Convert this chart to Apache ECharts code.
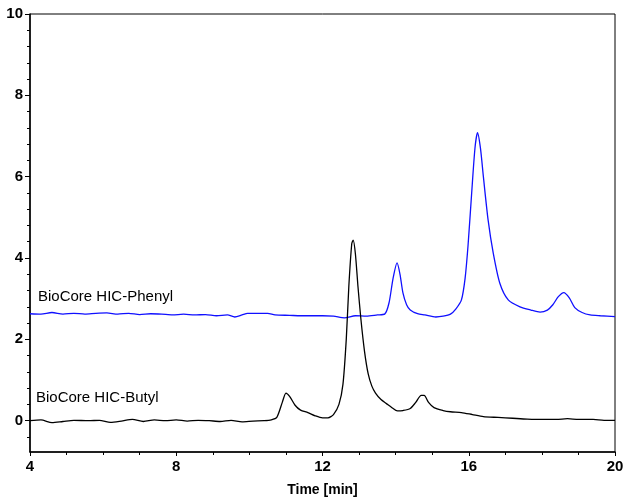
<!DOCTYPE html>
<html>
<head>
<meta charset="utf-8">
<script src="https://cdn.jsdelivr.net/npm/echarts@6/dist/echarts.min.js"></script>
<style>
  html, body { margin: 0; padding: 0; background: #fff; }
  #chart { width: 631px; height: 504px; }
</style>
</head>
<body>
<div id="chart"></div>
<script>
// retention time [min], signal
var butylX = [4.0, 4.3, 4.6, 4.9, 5.2, 5.6, 5.9, 6.2, 6.5, 6.8, 7.1, 7.4, 7.7, 8.0, 8.3, 8.6, 8.9, 9.2, 9.5, 9.8,
  10.1, 10.4, 10.6, 10.75, 10.9, 11.0, 11.1, 11.25, 11.4, 11.6, 11.8, 12.0, 12.15, 12.3, 12.45, 12.56, 12.65, 12.72,
  12.8, 12.84, 12.9, 12.97, 13.05, 13.15, 13.25, 13.35, 13.45, 13.6, 13.75, 13.9, 14.05, 14.2, 14.4, 14.55, 14.7,
  14.78, 14.9, 15.05, 15.3, 15.5, 15.8, 16.1, 16.4, 16.8, 17.2, 17.6, 18.0, 18.4, 18.7, 19.0, 19.4, 19.7, 20.0]
var butylY = [0.0, 0.02, -0.05, -0.02, 0.01, 0.0, 0.01, -0.04, -0.01, 0.03, -0.02, 0.02, 0.0, 0.02, -0.01, 0.01, 0.0, -0.02, 0.01, -0.03,
  -0.01, 0.0, 0.02, 0.08, 0.45, 0.68, 0.6, 0.38, 0.26, 0.2, 0.12, 0.07, 0.07, 0.15, 0.4, 0.9, 2.0, 3.3,
  4.35, 4.44, 4.1, 3.3, 2.5, 1.7, 1.15, 0.85, 0.68, 0.52, 0.42, 0.32, 0.24, 0.25, 0.3, 0.45, 0.62,
  0.62, 0.45, 0.32, 0.25, 0.22, 0.2, 0.15, 0.1, 0.08, 0.06, 0.04, 0.03, 0.03, 0.05, 0.03, 0.03, 0.01, 0.01]

var phenylX = [4.0, 4.3, 4.6, 4.9, 5.2, 5.5, 5.8, 6.1, 6.4, 6.7, 7.0, 7.3, 7.6, 7.9, 8.2, 8.5, 8.8, 9.1, 9.4, 9.6,
  9.8, 9.95, 10.2, 10.5, 10.7, 11.1, 11.4, 11.7, 12.0, 12.3, 12.6, 12.9, 13.2, 13.5, 13.7, 13.82, 13.93, 14.04, 14.12,
  14.2, 14.3, 14.4, 14.6, 14.8, 15.1, 15.3, 15.5, 15.65, 15.8, 15.9, 15.98, 16.08, 16.17, 16.24, 16.32, 16.4,
  16.53, 16.67, 16.85, 17.08, 17.4, 17.7, 17.95, 18.15, 18.3, 18.45, 18.6, 18.75, 18.9, 19.1, 19.32, 19.6, 20.0]
var phenylY = [2.63, 2.62, 2.66, 2.62, 2.64, 2.62, 2.64, 2.65, 2.62, 2.64, 2.61, 2.63, 2.62, 2.6, 2.62, 2.6, 2.61, 2.58, 2.6, 2.55,
  2.6, 2.64, 2.64, 2.64, 2.6, 2.59, 2.58, 2.58, 2.58, 2.57, 2.53, 2.58, 2.57, 2.6, 2.62, 2.9, 3.5, 3.88, 3.6,
  3.14, 2.85, 2.72, 2.63, 2.6, 2.55, 2.57, 2.62, 2.75, 2.97, 3.5, 4.3, 5.6, 6.7, 7.08, 6.7, 6.0,
  4.93, 4.12, 3.38, 2.97, 2.8, 2.72, 2.67, 2.72, 2.85, 3.05, 3.15, 3.02, 2.78, 2.66, 2.6, 2.58, 2.56]

var yMajor = [0, 2, 4, 6, 8, 10]
var yMinor = [-0.4, 0.4, 0.8, 1.2, 1.6, 2.4, 2.8, 3.2, 3.6, 4.4, 4.8, 5.2, 5.6, 6.4, 6.8, 7.2, 7.6, 8.4, 8.8, 9.2, 9.6]

function pairs(xs, ys) {
  return xs.map(function (x, i) { return [x, ys[i]] })
}

var chart = echarts.init(document.getElementById('chart'))
var font = 'Liberation Sans, Arial, sans-serif'

chart.setOption({
  backgroundColor: '#fff',
  animation: false,
  grid: {
    left: 30, right: 16, top: 14, bottom: 52,
    show: true, borderColor: '#000', borderWidth: 1
  },
  xAxis: {
    type: 'value', min: 4, max: 20, interval: 4,
    name: 'Time [min]', nameLocation: 'middle', nameGap: 31,
    nameTextStyle: { color: '#000', fontSize: 14, fontWeight: 'bold', fontFamily: font },
    axisLine: { onZero: false, lineStyle: { color: '#000', width: 1.5 } },
    axisTick: { length: 4, lineStyle: { color: '#000' } },
    minorTick: { show: true, splitNumber: 4, length: 3, lineStyle: { color: '#000' } },
    axisLabel: { color: '#000', fontSize: 15, fontWeight: 'bold', fontFamily: font, margin: 7 },
    splitLine: { show: false }
  },
  yAxis: [
    {
      type: 'value', min: -0.77, max: 10,
      axisLine: { onZero: false, lineStyle: { color: '#000', width: 1.5 } },
      axisTick: { length: 5, customValues: yMajor, lineStyle: { color: '#000' } },
      axisLabel: { customValues: yMajor, color: '#000', fontSize: 15, fontWeight: 'bold', fontFamily: font, margin: 7 },
      splitLine: { show: false }
    },
    {
      type: 'value', min: -0.77, max: 10, position: 'left',
      axisLine: { show: false, onZero: false },
      axisTick: { length: 3, customValues: yMinor, lineStyle: { color: '#000' } },
      axisLabel: { show: false },
      splitLine: { show: false }
    }
  ],
  graphic: [
    { type: 'text', left: 38, top: 289, style: { text: 'BioCore HIC-Phenyl', fill: '#000', font: '15px ' + font } },
    { type: 'text', left: 36, top: 390, style: { text: 'BioCore HIC-Butyl', fill: '#000', font: '15px ' + font } }
  ],
  series: [
    {
      name: 'BioCore HIC-Phenyl', type: 'line', data: pairs(phenylX, phenylY),
      showSymbol: false, smooth: 0.25, lineStyle: { color: '#1010ff', width: 1.3 }
    },
    {
      name: 'BioCore HIC-Butyl', type: 'line', data: pairs(butylX, butylY),
      showSymbol: false, smooth: 0.25, lineStyle: { color: '#000', width: 1.3 }
    }
  ]
})
</script>
</body>
</html>
